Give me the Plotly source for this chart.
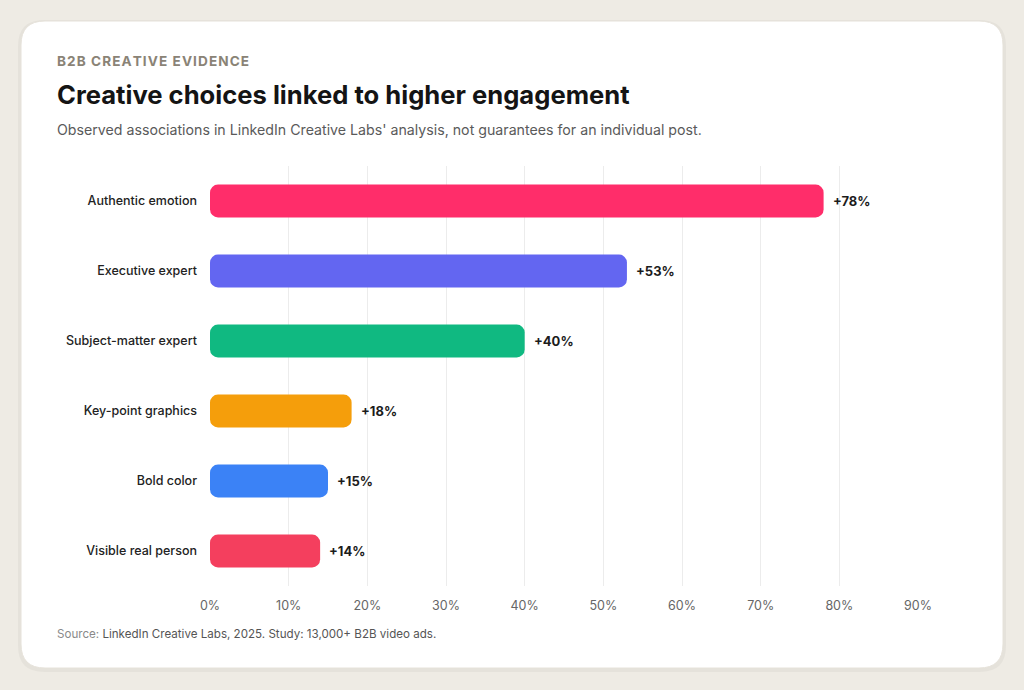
import plotly.graph_objects as go

# data
categories = [
    "Authentic emotion",
    "Executive expert",
    "Subject-matter expert",
    "Key-point graphics",
    "Bold color",
    "Visible real person",
]
lift_pct = [78, 53, 40, 18, 15, 14]
bar_colors = ["#FF2D6A", "#6366F1", "#10B981", "#F59E0B", "#3B82F6", "#F43F5E"]
tick_vals = [0, 10, 20, 30, 40, 50, 60, 70, 80, 90]
tick_text = [f"{v}%" for v in tick_vals]

W, H = 1024, 690
FONT = "Inter, Arial, sans-serif"


def px_x(v):
    return v / W


def px_y(v):
    return 1 - v / H


def rounded_rect(x0, y0, x1, y1, r):
    # path in paper coords from a pixel box, r in pixels
    rx, ry = r / W, r / H
    X0, X1 = px_x(x0), px_x(x1)
    Y0, Y1 = px_y(y0), px_y(y1)  # Y0 top, Y1 bottom
    return (
        f"M {X0 + rx},{Y0} L {X1 - rx},{Y0} Q {X1},{Y0} {X1},{Y0 - ry} "
        f"L {X1},{Y1 + ry} Q {X1},{Y1} {X1 - rx},{Y1} "
        f"L {X0 + rx},{Y1} Q {X0},{Y1} {X0},{Y1 + ry} "
        f"L {X0},{Y0 - ry} Q {X0},{Y0} {X0 + rx},{Y0} Z"
    )


def spaced(s):
    # fake letter-spacing with hair spaces
    return "\u200a".join(s)


fig = go.Figure()
# an explicit base makes plotly round both ends of each bar
fig.add_trace(go.Bar(
    x=lift_pct, base=[0] * len(lift_pct), y=categories, orientation="h",
    marker=dict(color=bar_colors, line=dict(width=0)),
    width=0.47, hoverinfo="skip",
))

# value labels
for cat, v in zip(categories, lift_pct):
    fig.add_annotation(
        x=v, y=cat, text=f"<b>+{v}%</b>", showarrow=False,
        xanchor="left", xshift=7,
        font=dict(family=FONT, size=13, color="#1c1c1c"),
    )

# card shadow + card
shapes = [
    dict(type="path", xref="paper", yref="paper", layer="below",
         path=rounded_rect(18, 20, 1006, 672, 26),
         fillcolor="rgba(0,0,0,0.035)", line=dict(width=0)),
    dict(type="path", xref="paper", yref="paper", layer="below",
         path=rounded_rect(21, 21, 1003, 668, 24),
         fillcolor="#ffffff", line=dict(color="#e6e2da", width=1)),
]

texts = [
    (55, 61, "<b>" + spaced("B2B CREATIVE EVIDENCE") + "</b>", 13.6, "#8a8376"),
    (55, 94, "<b>Creative choices linked to higher engagement</b>", 25.6, "#141414"),
    (55, 130, "Observed associations in LinkedIn Creative Labs' analysis, not guarantees for an individual post.", 14.2, "#5a5a5a"),
    (55, 634, "<span style='color:#8a8a8a'>Source:</span> LinkedIn Creative Labs, 2025. Study: 13,000+ B2B video ads.", 11.6, "#555555"),
]
for x, y, t, s, c in texts:
    fig.add_annotation(
        x=px_x(x), y=px_y(y), xref="paper", yref="paper", text=t,
        showarrow=False, xanchor="left", yanchor="middle",
        font=dict(family=FONT, size=s, color=c),
    )

fig.update_layout(
    width=W, height=H,
    autosize=False,
    margin=dict(l=0, r=0, t=0, b=0, autoexpand=False),
    paper_bgcolor="#eeebe4",
    plot_bgcolor="rgba(0,0,0,0)",
    shapes=shapes,
    showlegend=False,
    barcornerradius=8,
    font=dict(family=FONT),
    xaxis=dict(
        domain=[px_x(210), px_x(918)],
        range=[0, 90],
        tickvals=tick_vals, ticktext=tick_text,
        showgrid=True, gridcolor="#ececec", gridwidth=1,
        zeroline=False, showline=False,
        tickfont=dict(family=FONT, size=12.5, color="#666666"),
        ticks="", ticklabelstandoff=10,
        fixedrange=True, automargin=False,
    ),
    yaxis=dict(
        domain=[px_y(586), px_y(166)],
        autorange="reversed",
        showgrid=False, zeroline=False, showline=False,
        ticks="", ticklabelstandoff=12,
        tickfont=dict(family=FONT, size=12.5, color="#222222", weight=500),
        fixedrange=True, automargin=False,
    ),
)

fig.write_html(
    "out.html",
    config={"responsive": False, "displayModeBar": False},
    post_script="document.body.style.margin='0';document.body.style.overflow='hidden';",
)
